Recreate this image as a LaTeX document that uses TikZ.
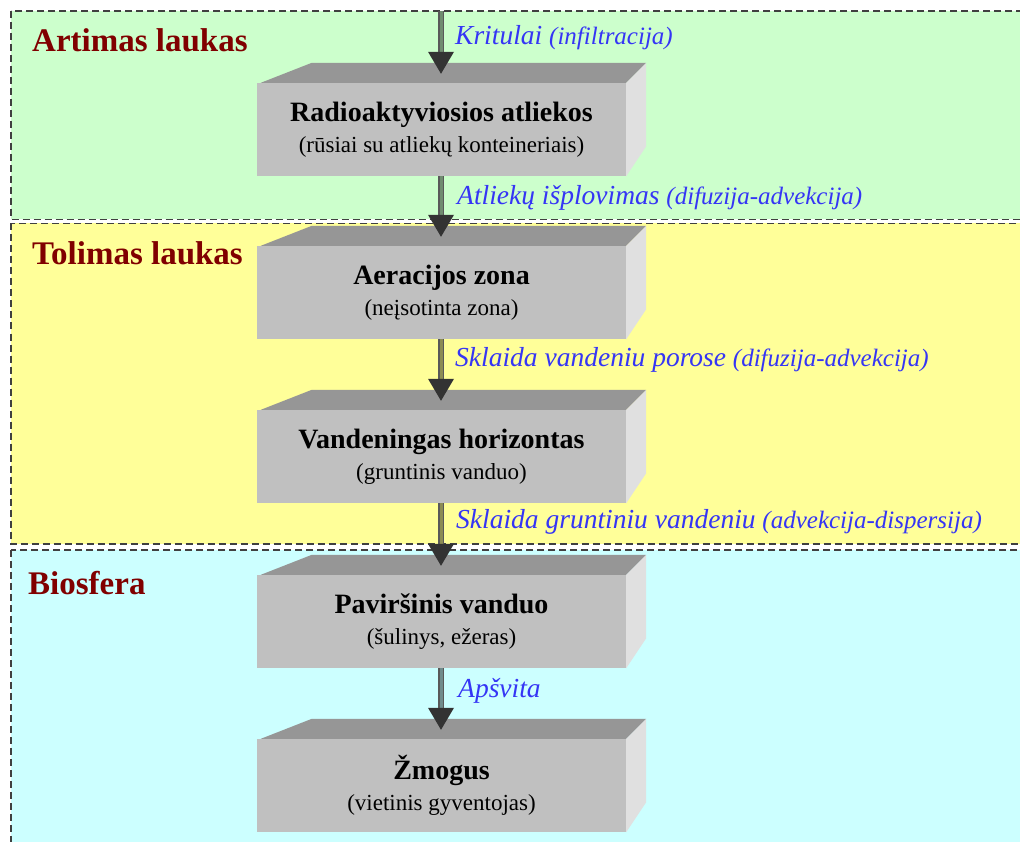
\documentclass[tikz,border=0pt]{standalone}
\usepackage{fontspec}
\setmainfont{Liberation Serif}
\usetikzlibrary{calc}

\definecolor{nearbg}{HTML}{CCFFCC}
\definecolor{farbg}{HTML}{FFFF99}
\definecolor{biobg}{HTML}{CCFFFF}
\definecolor{zonered}{HTML}{800000}
\definecolor{flowblue}{HTML}{3535F5}
\definecolor{boxfront}{HTML}{C0C0C0}
\definecolor{boxtop}{HTML}{969696}
\definecolor{boxside}{HTML}{E0E0E0}
\definecolor{headgray}{HTML}{333333}
\definecolor{borderdark}{HTML}{404040}

\newcommand{\subtxt}{\fontsize{23}{31}\selectfont}
\newcommand{\partxt}{\fontsize{25}{30}\selectfont}

\begin{document}
\begin{tikzpicture}[x=1pt,y=-1pt,
  zone/.style={draw=borderdark, line width=1.8pt, dash pattern=on 7pt off 4pt},
  zonetitle/.style={anchor=base west, inner sep=0pt, text=zonered,
    font=\fontsize{33}{38}\selectfont\bfseries},
  layer/.style={fill=boxfront, minimum width=369pt, minimum height=93pt,
    inner sep=0pt, align=center, font=\fontsize{28}{31}\selectfont},
  flow/.style={anchor=base west, inner sep=0pt, text=flowblue,
    font=\fontsize{27.5}{30}\selectfont\itshape},
  shaft/.style={draw=black!65, line width=1.6pt, double=#1, double distance=3pt},
  head/.style={fill=headgray},
]
\useasboundingbox (0,0) rectangle (1020,842);
\clip (0,0) rectangle (1020,842);
\fill[white] (0,0) rectangle (1020,842);

% zones
\filldraw[zone, fill=nearbg] (11,11) rectangle (1040,219.5);
\filldraw[zone, fill=farbg]  (11,223.5) rectangle (1040,544);
\filldraw[zone, fill=biobg]  (11,550) rectangle (1040,860);

\node[zonetitle] (zn) at (32,52)  {Artimas laukas};
\node[zonetitle] (zf) at (32,265) {Tolimas laukas};
\node[zonetitle] (zb) at (28,594) {Biosfera};

% layers (front faces carry the text)
\node[layer] (b1) at (441.5,129.5) {{\bfseries Radioaktyviosios atliekos}\\{\subtxt (rūsiai su atliekų konteineriais)}};
\node[layer] (b2) at (441.5,292.5) {{\bfseries Aeracijos zona}\\{\subtxt (neįsotinta zona)}};
\node[layer] (b3) at (441.5,456.5) {{\bfseries Vandeningas horizontas}\\{\subtxt (gruntinis vanduo)}};
\node[layer] (b4) at (441.5,621.5) {{\bfseries Paviršinis vanduo}\\{\subtxt (šulinys, ežeras)}};
\node[layer] (b5) at (441.5,785.5) {{\bfseries Žmogus}\\{\subtxt (vietinis gyventojas)}};

% top and side faces of each layer
\foreach \b in {b1,b2,b3,b4,b5} {
  \fill[boxtop] ($(\b.north west)+(4,0)$) -- ($(\b.north west)+(55,-20)$)
    -- ($(\b.north east)+(20,-20)$) -- (\b.north east) -- cycle;
  \fill[boxside] (\b.north east) -- ($(\b.north east)+(20,-20)$)
    -- ($(\b.south east)+(20,-30)$) -- (\b.south east) -- cycle;
}

% flow arrows
\coordinate (src) at (441,11);
\foreach \b in {b1,b2,b3,b4,b5} {
  \coordinate (tip\b) at ($(\b.north)+(-0.5,-9)$);
  \coordinate (base\b) at ($(tip\b)+(0,-20)$);
}
\draw[shaft=nearbg!55!black] (src) -- (baseb1);
\draw[shaft=nearbg!55!black] (b1.south -| src) -- (baseb2);
\draw[shaft=farbg!55!black]  (b2.south -| src) -- (baseb3);
\draw[shaft=farbg!55!black]  (b3.south -| src) -- (baseb4);
\draw[shaft=biobg!55!black]  (b4.south -| src) -- (baseb5);
\foreach \b in {b1,b2,b3,b4,b5} {
  \fill[head] (tip\b) -- ($(tip\b)+(-13,-22)$) -- ($(tip\b)+(13,-22)$) -- cycle;
}

% flow labels
\node[flow] (l1) at (455,45)  {Kritulai {\partxt (infiltracija)}};
\node[flow] (l2) at (457,205) {Atliekų išplovimas {\partxt (difuzija-advekcija)}};
\node[flow] (l3) at (455,366) {Sklaida vandeniu porose {\partxt (difuzija-advekcija)}};
\node[flow] (l4) at (456,528) {Sklaida gruntiniu vandeniu {\partxt (advekcija-dispersija)}};
\node[flow] (l5) at (458,697) {Apšvita};
\end{tikzpicture}
\end{document}
